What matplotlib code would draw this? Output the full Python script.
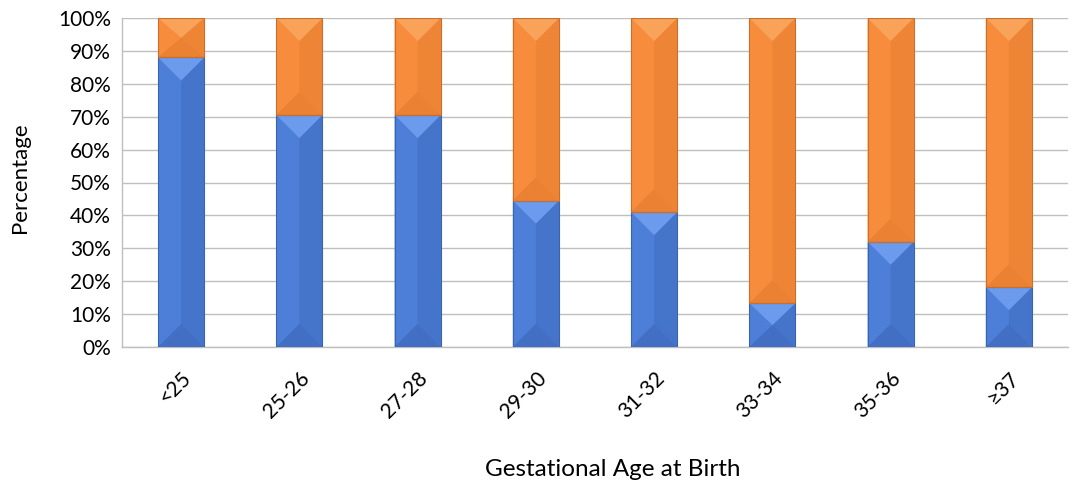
import matplotlib.pyplot as plt
from matplotlib.patches import Polygon
from matplotlib.ticker import PercentFormatter

# Data
ages = ['<25', '25-26', '27-28', '29-30', '31-32', '33-34', '35-36', '≥37']
blue_pct = [88, 70.5, 70.5, 44.5, 41, 13.3, 32, 18.2]
orange_pct = [100 - v for v in blue_pct]

plt.rcParams['font.family'] = ['Lato', 'DejaVu Sans']

fig = plt.figure(figsize=(10.75, 4.97), dpi=100)
ax = fig.add_axes([122 / 1075, 1 - 347 / 497, 946 / 1075, 329 / 497])

x = range(len(ages))
width = 0.39
b1 = ax.bar(x, blue_pct, width, color='#4A7DD6', zorder=2)
b2 = ax.bar(x, orange_pct, width, bottom=blue_pct, color='#F68C3B', zorder=2)

ax.set_xlim(-0.5, len(ages) - 0.5)
ax.set_ylim(0, 100)

# bevel look: split each bar into four facets
px_x = 946 / len(ages)
px_y = 329 / 100
shades = {
    '#4A7DD6': ('#6C9AEC', '#4D7FD9', '#4574CB', '#426FC4', '#3A64B0'),
    '#F68C3B': ('#F9A25A', '#F78D3C', '#EE8536', '#EA8133', '#CE6D28'),
}
for bars, base in ((b1, '#4A7DD6'), (b2, '#F68C3B')):
    top_c, left_c, right_c, bot_c, edge_c = shades[base]
    for p in bars:
        L, B = p.get_x(), p.get_y()
        R, T = L + p.get_width(), B + p.get_height()
        cx = (L + R) / 2
        d = min(p.get_width() / 2 * px_x / px_y, p.get_height() / 2)
        facets = [
            ([(L, B), (cx, B + d), (cx, T - d), (L, T)], left_c),
            ([(R, B), (cx, B + d), (cx, T - d), (R, T)], right_c),
            ([(L, T), (R, T), (cx, T - d)], top_c),
            ([(L, B), (R, B), (cx, B + d)], bot_c),
        ]
        for pts, c in facets:
            ax.add_patch(Polygon(pts, closed=True, facecolor=c, edgecolor='none', zorder=3))
        ax.add_patch(Polygon([(L, B), (R, B), (R, T), (L, T)], closed=True,
                             facecolor='none', edgecolor=edge_c, linewidth=0.8, zorder=4))

ax.set_yticks(range(0, 101, 10))
ax.yaxis.set_major_formatter(PercentFormatter(decimals=0))
ax.set_xticks(list(x))
ax.set_xticklabels(ages, rotation=45, ha='right', rotation_mode='anchor')
ax.tick_params(axis='both', length=0, labelsize=15, colors='#000000')
ax.tick_params(axis='x', pad=15)
ax.tick_params(axis='y', pad=8)

ax.grid(axis='y', color='#BFBFBF', linewidth=1, zorder=0)
ax.set_axisbelow(True)
for s in ['top', 'right']:
    ax.spines[s].set_visible(False)
for s in ['left', 'bottom']:
    ax.spines[s].set_color('#BFBFBF')
    ax.spines[s].set_linewidth(1)

ax.set_ylabel('Percentage', fontsize=16)
ax.yaxis.set_label_coords(-0.108, (347 - 178) / 329)
ax.yaxis.label.set_va('center')
ax.set_xlabel('Gestational Age at Birth', fontsize=17.5)
ax.xaxis.set_label_coords((613 - 122) / 946, -(470 - 347) / 329)
ax.xaxis.label.set_va('center')

fig.savefig('out.png', dpi=100)
